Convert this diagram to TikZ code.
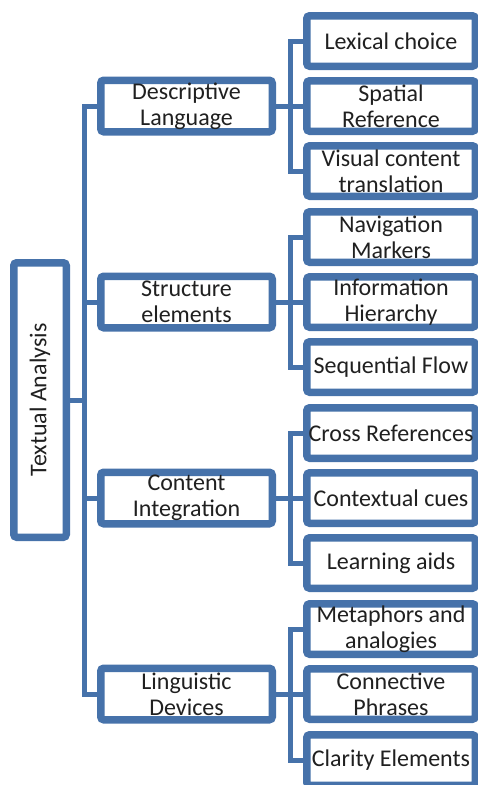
\documentclass[tikz,border=0pt]{standalone}
\usepackage{fontspec}
\usepackage{graphicx}
\setmainfont{Carlito}
\usetikzlibrary{shadows}
\definecolor{accent}{RGB}{70,114,170}
\definecolor{ink}{RGB}{32,32,32}

\begin{document}
\begin{tikzpicture}[x=1pt,y=-1pt,
  box/.style={draw=accent, line width=7.5pt, fill=white, rounded corners=3pt,
    text=ink, font=\fontsize{24}{26}\selectfont, align=center, inner sep=0pt,
    drop shadow={shadow xshift=2pt, shadow yshift=-3pt, opacity=.22, fill=black}},
  topic/.style={box, minimum width=171.5pt, minimum height=51.5pt},
  leaf/.style={box, minimum width=168.5pt, minimum height=50.5pt},
  link/.style={draw=accent, line width=5pt}]
\useasboundingbox (0,0) rectangle (478,785);
\clip (0,0) rectangle (478,785);

% root
\node[box, minimum width=52.5pt, minimum height=274.5pt] (root) at (40,400)
  {\rotatebox{90}{Textual Analysis}};

% second level
\node[topic] (desc)    at (186.5,106) {Descriptive\\Language};
\node[topic] (struct)  at (186.5,302) {Structure\\elements};
\node[topic] (content) at (186.5,498) {Content\\Integration};
\node[topic] (ling)    at (186.5,694) {Linguistic\\Devices};

% third level
\node[leaf] (desc1) at (391,41)  {Lexical choice};
\node[leaf] (desc2) at (391,106) {Spatial\\Reference};
\node[leaf] (desc3) at (391,171) {Visual content\\translation};

\node[leaf] (struct1) at (391,237) {Navigation\\Markers};
\node[leaf] (struct2) at (391,302) {Information\\Hierarchy};
\node[leaf] (struct3) at (391,367) {Sequential Flow};

\node[leaf] (content1) at (391,433) {Cross References};
\node[leaf] (content2) at (391,498) {Contextual cues};
\node[leaf] (content3) at (391,563) {Learning aids};

\node[leaf] (ling1) at (391,629) {Metaphors and\\analogies};
\node[leaf] (ling2) at (391,694) {Connective\\Phrases};
\node[leaf] (ling3) at (391,760) {Clarity Elements};

% connectors
\coordinate (trunk) at (84,0);
\coordinate (bus) at (290,0);
\foreach \t in {desc,struct,content,ling}{
  \draw[link] (root.east) -- (root.east -| trunk) |- (\t.west);
  \foreach \i in {1,2,3}
    \draw[link] (\t.east) -- (\t.east -| bus) |- (\t\i.west);
}
\end{tikzpicture}
\end{document}
